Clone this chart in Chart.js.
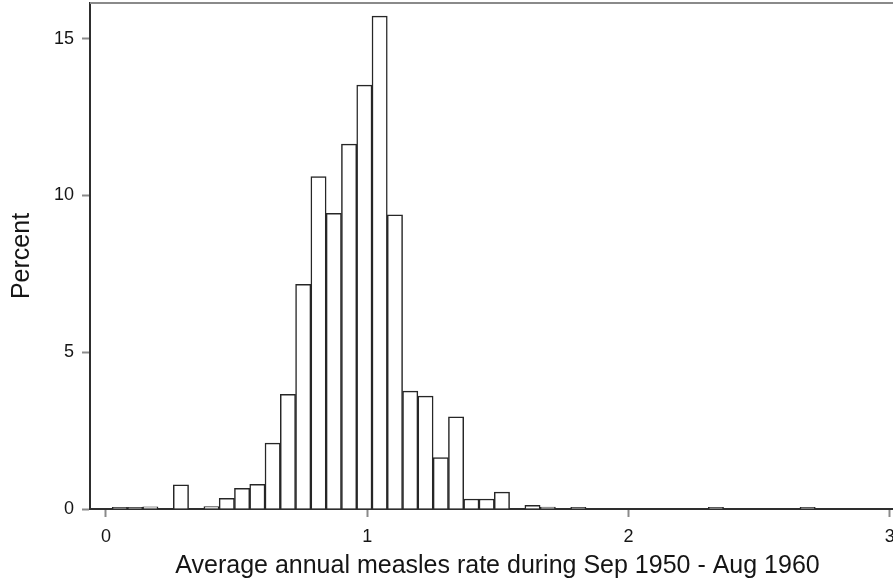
<!DOCTYPE html>
<html>
<head>
<meta charset="utf-8">
<script src="https://cdn.jsdelivr.net/npm/chart.js@4/dist/chart.umd.min.js"></script>
<style>
  html, body { margin: 0; padding: 0; background: #fff; width: 893px; height: 581px; overflow: hidden; }
  canvas { display: block; }
</style>
</head>
<body>
<canvas id="c" width="920" height="581"></canvas>
<script>
// Histogram of the average annual measles rate (Sep 1950 - Aug 1960)
const binStart = 0.0236;   // lower edge of the first bin
const binWidth = 0.0585;   // width of every bin
const percent = [
  0.05, 0.05, 0.07, 0.00, 0.77, 0.00, 0.08, 0.34, 0.66, 0.79,
  2.10, 3.66, 7.17, 10.60, 9.43, 11.64, 13.52, 15.72, 9.38, 3.76,
  3.60, 1.64, 2.94, 0.32, 0.32, 0.54, 0.00, 0.12, 0.06, 0.00,
  0.05, 0.00, 0.00, 0.00, 0.00, 0.00, 0.00, 0.00, 0.00, 0.05,
  0.00, 0.00, 0.00, 0.00, 0.00, 0.05
];
const xTickValues = [0, 1, 2, 3];
const yTickValues = [0, 5, 10, 15];
const xTitle = 'Average annual measles rate during Sep 1950 - Aug 1960';
const yTitle = 'Percent';

const points = percent.map((p, k) => ({ x: binStart + (k + 0.5) * binWidth, y: p }));

const FONT = '"Liberation Sans", Arial, sans-serif';
const TEXT = '#151515';

// outline of the plot region (top and right edges)
const frame = {
  id: 'frame',
  beforeDatasetsDraw(chart) {
    const { ctx, chartArea: a } = chart;
    ctx.save();
    ctx.strokeStyle = '#8a8a8a';
    ctx.lineWidth = 2;
    ctx.beginPath();
    ctx.moveTo(a.left, a.top);
    ctx.lineTo(a.right, a.top);
    ctx.lineTo(a.right, a.bottom);
    ctx.stroke();
    ctx.restore();
  }
};

// keep the plot region tight: no extra room reserved for label overhang
const noOverhang = s => { s.paddingTop = 0; s.paddingBottom = 0; s.paddingLeft = 0; s.paddingRight = 0; };

new Chart(document.getElementById('c'), {
  type: 'bar',
  data: {
    datasets: [{
      data: points,
      backgroundColor: '#ffffff',
      borderColor: '#262626',
      borderWidth: 1.5,
      barPercentage: 1,
      categoryPercentage: 1,
      grouped: false
    }]
  },
  options: {
    responsive: false,
    animation: false,
    layout: { padding: { top: 3, right: 15, bottom: 0, left: 0 } },
    plugins: { legend: { display: false }, tooltip: { enabled: false } },
    scales: {
      x: {
        type: 'linear',
        min: -0.0612,
        max: 3.058,
        offset: false,
        afterBuildTicks: s => { s.ticks = xTickValues.map(v => ({ value: v })); },
        afterFit: s => { s.height = 72; noOverhang(s); },
        ticks: { font: { family: FONT, size: 18 }, color: TEXT, padding: 9, maxRotation: 0, autoSkip: false },
        grid: { drawOnChartArea: false, offset: false, tickLength: 8, tickWidth: 2, tickColor: '#8a8a8a' },
        border: { color: '#2e2e2e', width: 2 },
        title: { display: true, text: xTitle, color: TEXT, font: { family: FONT, size: 25 }, padding: { top: 0, bottom: 0 } }
      },
      y: {
        min: 0,
        max: 16.14,
        afterBuildTicks: s => { s.ticks = yTickValues.map(v => ({ value: v })); },
        afterFit: s => { s.width = 90; noOverhang(s); },
        ticks: { font: { family: FONT, size: 18 }, color: TEXT, padding: 8 },
        grid: { drawOnChartArea: false, tickLength: 8, tickWidth: 2, tickColor: '#8a8a8a' },
        border: { color: '#2e2e2e', width: 2 },
        title: { display: true, text: yTitle, color: TEXT, font: { family: FONT, size: 25 }, padding: { top: 7, bottom: 0 } }
      }
    }
  },
  plugins: [frame]
});
</script>
</body>
</html>
